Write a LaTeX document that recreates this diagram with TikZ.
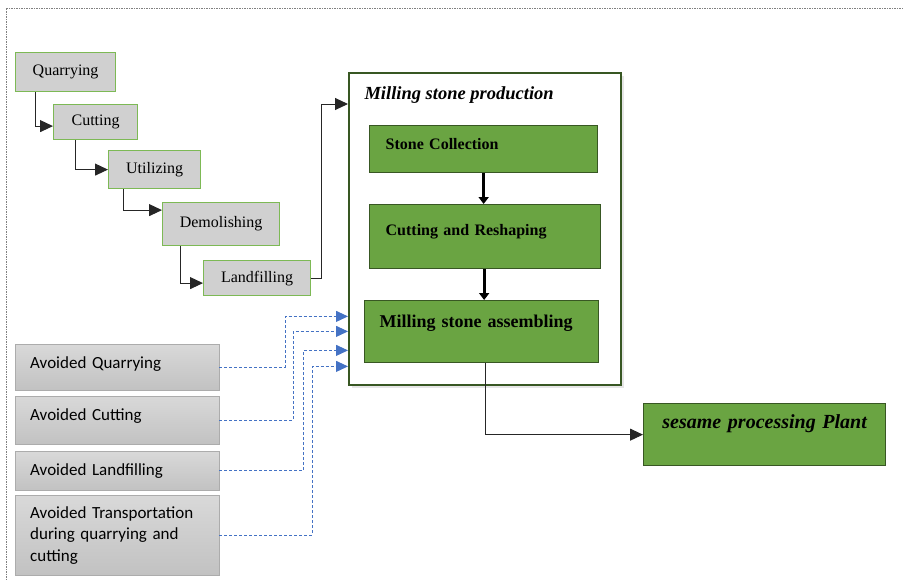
\documentclass[tikz,border=0pt]{standalone}
\usepackage{fontspec}
\setmainfont{Liberation Serif}
\newfontfamily\calibfont{Carlito}
\usetikzlibrary{arrows.meta,shadows}
\definecolor{leafgreen}{RGB}{106,164,66}
\definecolor{darkleaf}{RGB}{56,87,35}
\definecolor{lightleaf}{RGB}{125,185,85}
\definecolor{stonegray}{RGB}{208,208,208}
\definecolor{dashblue}{RGB}{68,114,196}

\tikzset{
  stage/.style={draw=lightleaf, line width=1.2pt, fill=stonegray, anchor=north west,
    inner sep=0pt, font=\fontsize{16}{19}\selectfont},
  avoided/.style={draw=gray!65, top color=gray!30, bottom color=gray!48, anchor=north west,
    inner ysep=0pt, inner xsep=15pt, align=left, text width=174pt,
    font=\calibfont\fontsize{17}{21.5}\selectfont},
  millbox/.style={draw=darkleaf, line width=1.3pt, fill=leafgreen, anchor=north west,
    inner ysep=0pt, align=left, font=\bfseries\fontsize{16}{19}\selectfont},
  flow/.style={-{Triangle[length=13pt,width=12pt]}, draw=black!85, line width=1pt},
  bigflow/.style={-{Triangle[length=7pt,width=10pt]}, line width=3pt},
  saving/.style={-{Triangle[length=12pt,width=11pt]}, draw=dashblue, line width=1pt,
    dash pattern=on 3pt off 2pt}
}

\begin{document}
\begin{tikzpicture}[x=1pt,y=-1pt]
\useasboundingbox (0,0) rectangle (903,581);
\draw[gray, line width=0.6pt, dash pattern=on 1.5pt off 1pt] (903,8) -- (6,8) -- (6,581);

% life cycle of the stone
\node[stage, minimum width=100, minimum height=39] (quar) at (15,52) {Quarrying};
\node[stage, minimum width=84, minimum height=35] (cut) at (53,104) {Cutting};
\node[stage, minimum width=92, minimum height=38] (util) at (108,150) {Utilizing};
\node[stage, minimum width=117, minimum height=43] (demo) at (162,202) {Demolishing};
\node[stage, minimum width=107, minimum height=35] (land) at (203,260) {Landfilling};

\draw[flow] ([xshift=20]quar.south west) |- ([yshift=-4]cut.west);
\draw[flow] ([xshift=22]cut.south west) |- (util.west);
\draw[flow] ([xshift=15]util.south west) |- ([yshift=14]demo.west);
\draw[flow] ([xshift=18]demo.south west) |- ([yshift=-5]land.west);

% milling stone production
\node[draw=darkleaf, line width=2.4pt, fill=white, anchor=north west,
  minimum width=272, minimum height=312,
  drop shadow={shadow xshift=3pt, shadow yshift=-3pt, opacity=0.2}] (mill) at (348,72) {};
\node[anchor=base west, font=\bfseries\itshape\fontsize{18.5}{21}\selectfont]
  (title) at ([xshift=13,yshift=-27]mill.north west) {Milling stone production};

\node[millbox, inner xsep=16pt, text width=196pt, text height=24pt, text depth=23pt]
  (coll) at (369,125) {Stone Collection};
\node[millbox, inner xsep=16pt, text width=199pt, text height=31pt, text depth=33pt]
  (resh) at (369,204) {Cutting and Reshaping};
\node[millbox, inner xsep=15pt, text width=204pt, font=\bfseries\fontsize{18}{21}\selectfont,
  text height=27pt, text depth=35pt] (asm) at (364,300) {Milling stone assembling};

\draw[bigflow] (coll.south) -- (coll.south |- resh.north);
\draw[bigflow] ([xshift=-1]resh.south) -- ([xshift=-1]resh.south |- asm.north);

\draw[flow] (land.east) -- ++(10,0) |- ([yshift=-32]mill.north west);

% output
\node[millbox, align=center, inner xsep=6pt, text width=230pt,
  font=\bfseries\itshape\fontsize{20}{23}\selectfont, text height=25pt, text depth=37pt]
  (plant) at (643,403) {sesame processing Plant};
\draw[flow] ([xshift=4]asm.south) |- (plant.west);

% avoided burdens
\node[avoided, text height=24pt, text depth=22pt] (avq) at (15,344) {Avoided Quarrying};
\node[avoided, text height=24pt, text depth=24pt] (avc) at (15,396) {Avoided Cutting};
\node[avoided, text height=24pt, text depth=15pt] (avl) at (15,451) {Avoided Landfilling};
\node[avoided, minimum height=80] (avt) at (15,495)
  {Avoided Transportation\\during quarrying and\\cutting};

\draw[saving] (avq.east) -- ++(66,0) |- ([yshift=70]mill.south west);
\draw[saving] (avc.east) -- ++(74,0) |- ([yshift=55]mill.south west);
\draw[saving] (avl.east) -- ++(84,0) |- ([yshift=36]mill.south west);
\draw[saving] (avt.east) -- ++(93,0) |- ([yshift=20]mill.south west);
\end{tikzpicture}
\end{document}
